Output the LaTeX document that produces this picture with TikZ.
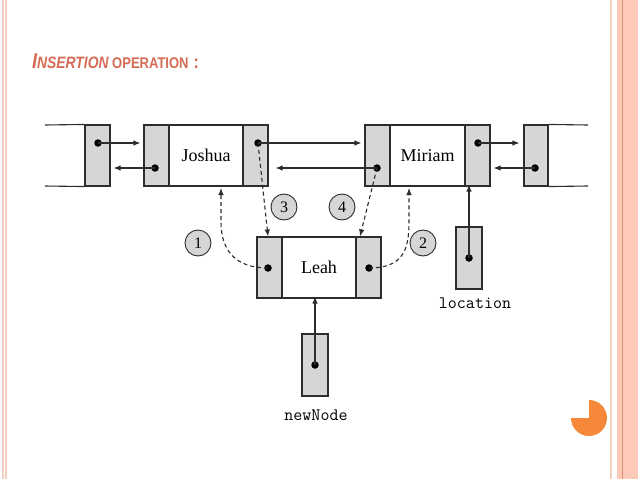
\documentclass[tikz,border=0pt]{standalone}
\usepackage{fontspec}
\newfontfamily\titlefont[FakeStretch=0.84]{Liberation Sans}
\newfontfamily\nodefont{Liberation Serif}
\usetikzlibrary{arrows.meta}
\definecolor{titlecol}{RGB}{214,108,86}
\definecolor{linec}{RGB}{45,45,45}
\definecolor{grayf}{RGB}{214,214,214}
\definecolor{piecol}{RGB}{246,136,58}
\definecolor{bandfill}{RGB}{252,202,182}
\definecolor{bandline}{RGB}{232,142,104}
\definecolor{paleline}{RGB}{244,206,192}
\tikzset{
  gbox/.style={draw=linec, fill=grayf, line width=1.1pt, minimum width=25pt, minimum height=61pt, inner sep=0pt},
  wbox/.style={draw=linec, fill=white, line width=1.1pt, minimum width=74pt, minimum height=61pt, inner sep=0pt, font=\nodefont\fontsize{18}{18}\selectfont},
  ptrbox/.style={draw=linec, fill=grayf, line width=1.1pt, minimum width=26pt, minimum height=62pt, inner sep=0pt},
  dot/.style={circle, fill=black, minimum size=7.5pt, inner sep=0pt},
  arr/.style={-{Latex[length=7pt,width=5.5pt]}, line width=1.1pt, draw=linec},
  darr/.style={arr, dash pattern=on 4pt off 3pt},
  rail/.style={line width=1.1pt, draw=linec},
  numc/.style={circle, draw=linec, fill=grayf, line width=0.9pt, minimum size=26pt, inner sep=0pt, font=\nodefont\fontsize{16}{16}\selectfont},
  lbl/.style={font=\ttfamily\fontsize{17.5}{17.5}\selectfont, inner sep=0pt}
}
\begin{document}
\begin{tikzpicture}[x=1pt, y=-1pt]
\useasboundingbox (0,0) rectangle (638,479);
\fill[white] (0,0) rectangle (638,479);
% slide decorations
\draw[paleline, line width=1.2pt] (3,0) -- (3,479);
\draw[paleline, line width=1.2pt] (6,0) -- (6,479);
\draw[paleline, line width=1.5pt] (611,0) -- (611,479);
\fill[bandfill] (617,0) rectangle (638,479);
\draw[bandline, line width=1pt] (622.5,0) -- (622.5,479);
\fill[piecol] (589,418) -- ++(0,-18) arc[start angle=-90, end angle=180, radius=18] -- cycle;
% title
\node[anchor=base west, text=titlecol, inner sep=0pt] (title) at (32,68)
  {\titlefont\bfseries\itshape{\fontsize{21.5}{21.5}\selectfont I}{\fontsize{16.5}{16.5}\selectfont NSERTION}\fontsize{15.5}{15.5}\selectfont\ \upshape OPERATION\hspace{5pt}{\fontsize{19}{19}\selectfont :}};
% top row
\node[gbox] (b0) at (97.5,155.5) {};
\node[gbox] (jl) at (156.5,155.5) {};
\node[wbox] (jw) at (206,155.5) {Joshua};
\node[gbox] (jr) at (255.5,155.5) {};
\node[gbox] (ml) at (377.5,155.5) {};
\node[wbox, minimum width=75pt] (mw) at (427.5,155.5) {Miriam};
\node[gbox] (mr) at (477.5,155.5) {};
\node[gbox, minimum width=24pt] (b5) at (536,155.5) {};
% rails
\coordinate (lt) at (45,125);
\coordinate (lb) at (45,186);
\coordinate (rt) at (588,125);
\coordinate (rb) at (588,186);
\draw[rail] (lt) -- (b0.north west);
\draw[rail] (lb) -- (b0.south west);
\draw[rail] (b5.north east) -- (rt);
\draw[rail] (b5.south east) -- (rb);
% Leah
\node[gbox] (ll) at (269.5,267.5) {};
\node[wbox] (lw) at (319,267.5) {Leah};
\node[gbox] (lr) at (368.5,267.5) {};
% pointer boxes
\node[ptrbox] (loc) at (469,258) {};
\node[ptrbox] (nn) at (315,365) {};
\node[lbl] (loct) at (475,303) {location};
\node[lbl] (nnt) at (316,415) {newNode};
% dots
\node[dot] (d0) at (98,143) {};
\node[dot] (d1) at (155,168) {};
\node[dot] (d2) at (258,143) {};
\node[dot] (d3) at (377,168) {};
\node[dot] (d4) at (478,143) {};
\node[dot] (d5) at (535,168) {};
\node[dot] (d6) at (268,268) {};
\node[dot] (d7) at (369,268) {};
\node[dot] (d8) at (469,258) {};
\node[dot] (d9) at (315,365) {};
% solid pointers
\draw[arr] (d0.center) -- ([xshift=-3pt]jl.west |- d0);
\draw[arr] (d1.center) -- ([xshift=3pt]b0.east |- d1);
\draw[arr] (d2.center) -- ([xshift=-3pt]ml.west |- d2);
\draw[arr] (d3.center) -- ([xshift=7pt]jr.east |- d3);
\draw[arr] (d4.center) -- ([xshift=-4pt]b5.west |- d4);
\draw[arr] (d5.center) -- ([xshift=3pt]mr.east |- d5);
\draw[arr] (d8.center) -- ([yshift=2pt]d8 |- mr.south);
\draw[arr] (d9.center) -- ([yshift=2pt]d9 |- lw.south);
% dashed pointers
\coordinate (t1) at (221,188);
\coordinate (t2) at (409,188);
\draw[darr] (d6.center) .. controls (235,268) and (221,250) .. (221,222) -- (t1);
\draw[darr] (d7.center) .. controls (403,268) and (409,250) .. (409,222) -- (t2);
\draw[darr] (d2.center) -- ([xshift=-1.5pt]ll.north);
\draw[darr] (d3.center) -- ([xshift=-8.5pt]lr.north);
% step numbers
\node[numc] (n1) at (198,243) {1};
\node[numc] (n2) at (423,243) {2};
\node[numc] (n3) at (284,207) {3};
\node[numc] (n4) at (342,207) {4};
\end{tikzpicture}
\end{document}
